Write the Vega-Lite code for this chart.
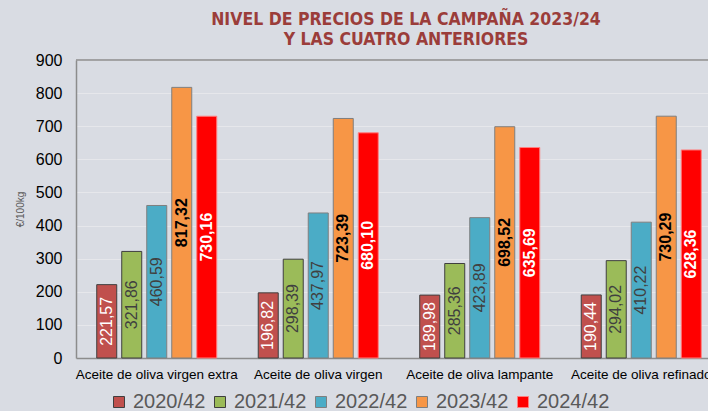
{
  "$schema": "https://vega.github.io/schema/vega-lite/v6.json",
  "autosize": "none",
  "width": 632,
  "height": 298,
  "padding": {"left": 76, "top": 60, "right": 0, "bottom": 53},
  "background": "#D9DCE3",
  "title": {
    "text": ["NIVEL DE PRECIOS DE LA CAMPAÑA 2023/24", "Y LAS CUATRO ANTERIORES"],
    "anchor": "middle",
    "dx": 14,
    "offset": 4,
    "font": "DejaVu Sans Condensed, Liberation Sans, sans-serif",
    "fontSize": 17.5,
    "fontWeight": "bold",
    "color": "#9B3D3A",
    "lineHeight": 20
  },
  "data": {
    "values": [
      {"product": "Aceite de oliva virgen extra", "series": "2020/42", "value": 221.57},
      {"product": "Aceite de oliva virgen extra", "series": "2021/42", "value": 321.86},
      {"product": "Aceite de oliva virgen extra", "series": "2022/42", "value": 460.59},
      {"product": "Aceite de oliva virgen extra", "series": "2023/42", "value": 817.32},
      {"product": "Aceite de oliva virgen extra", "series": "2024/42", "value": 730.16},
      {"product": "Aceite de oliva virgen", "series": "2020/42", "value": 196.82},
      {"product": "Aceite de oliva virgen", "series": "2021/42", "value": 298.39},
      {"product": "Aceite de oliva virgen", "series": "2022/42", "value": 437.97},
      {"product": "Aceite de oliva virgen", "series": "2023/42", "value": 723.39},
      {"product": "Aceite de oliva virgen", "series": "2024/42", "value": 680.10},
      {"product": "Aceite de oliva lampante", "series": "2020/42", "value": 189.98},
      {"product": "Aceite de oliva lampante", "series": "2021/42", "value": 285.36},
      {"product": "Aceite de oliva lampante", "series": "2022/42", "value": 423.89},
      {"product": "Aceite de oliva lampante", "series": "2023/42", "value": 698.52},
      {"product": "Aceite de oliva lampante", "series": "2024/42", "value": 635.69},
      {"product": "Aceite de oliva refinado", "series": "2020/42", "value": 190.44},
      {"product": "Aceite de oliva refinado", "series": "2021/42", "value": 294.02},
      {"product": "Aceite de oliva refinado", "series": "2022/42", "value": 410.22},
      {"product": "Aceite de oliva refinado", "series": "2023/42", "value": 730.29},
      {"product": "Aceite de oliva refinado", "series": "2024/42", "value": 628.36}
    ]
  },
  "encoding": {
    "x": {
      "field": "product",
      "type": "nominal",
      "sort": null,
      "scale": {"range": [0, 646], "paddingInner": 0.226, "paddingOuter": 0.113},
      "axis": {
        "title": null,
        "labelAngle": 0,
        "ticks": false,
        "labelPadding": 9,
        "labelFontSize": 13.5,
        "labelColor": "#000000",
        "labelFont": "Liberation Sans",
        "domainColor": "#8C8C8C",
        "domainWidth": 1.5,
        "grid": false,
        "labelLimit": 300
      }
    },
    "xOffset": {
      "field": "series",
      "type": "nominal",
      "sort": null,
      "scale": {"paddingInner": 0.2, "paddingOuter": 0.1}
    }
  },
  "layer": [
    {
      "mark": {"type": "bar", "strokeWidth": 1},
      "encoding": {
        "y": {
          "field": "value",
          "type": "quantitative",
          "scale": {"domain": [0, 900], "nice": false},
          "axis": {"title": "€/100kg", "values": [0, 100, 200, 300, 400, 500, 600, 700, 800, 900]}
        },
        "fill": {
          "field": "series",
          "type": "nominal",
          "sort": null,
          "scale": {
            "domain": ["2020/42", "2021/42", "2022/42", "2023/42", "2024/42"],
            "range": ["#C0504D", "#9BBB59", "#4BACC6", "#F79646", "#FF0000"]
          },
          "legend": {
            "title": null,
            "orient": "none",
            "direction": "horizontal",
            "legendX": 33,
            "legendY": 332
          }
        },
        "stroke": {
          "field": "series",
          "type": "nominal",
          "sort": null,
          "scale": {
            "domain": ["2020/42", "2021/42", "2022/42", "2023/42", "2024/42"],
            "range": ["#3F3F3F", "#3F3F3F", "#7F7F7F", "#7F7F7F", "#FF7F7F"]
          },
          "legend": {
            "title": null,
            "orient": "none",
            "direction": "horizontal",
            "legendX": 33,
            "legendY": 332
          }
        }
      }
    },
    {
      "transform": [
        {"filter": "datum.series === '2020/42' || datum.series === '2021/42' || datum.series === '2022/42'"},
        {"calculate": "datum.value / 2", "as": "mid"}
      ],
      "mark": {"type": "text", "angle": 270, "align": "center", "baseline": "middle", "fontSize": 16, "font": "Liberation Sans"},
      "encoding": {
        "y": {"field": "mid", "type": "quantitative", "axis": {"title": "€/100kg", "values": [0, 100, 200, 300, 400, 500, 600, 700, 800, 900]}},
        "text": {"field": "value", "type": "quantitative", "format": ".2f"},
        "color": {"condition": {"test": "datum.series === '2020/42'", "value": "#FFFFFF"}, "value": "#404040"}
      }
    },
    {
      "transform": [
        {"filter": "datum.series === '2023/42' || datum.series === '2024/42'"},
        {"calculate": "datum.value / 2", "as": "mid"}
      ],
      "mark": {"type": "text", "angle": 270, "align": "center", "baseline": "middle", "fontSize": 16, "fontWeight": "bold", "font": "Liberation Sans"},
      "encoding": {
        "y": {"field": "mid", "type": "quantitative", "axis": {"title": "€/100kg", "values": [0, 100, 200, 300, 400, 500, 600, 700, 800, 900]}},
        "text": {"field": "value", "type": "quantitative", "format": ".2f"},
        "color": {"condition": {"test": "datum.series === '2023/42'", "value": "#000000"}, "value": "#FFFFFF"}
      }
    },
    {
      "data": {"values": [{}]},
      "mark": {"type": "rule", "color": "#8C8C8C", "strokeWidth": 1.5},
      "encoding": {"y": {"datum": 900, "axis": {"title": "€/100kg", "values": [0, 100, 200, 300, 400, 500, 600, 700, 800, 900]}}, "x": null, "xOffset": null}
    }
  ],
  "config": {
    "view": {"stroke": null},
    "locale": {"number": {"decimal": ",", "thousands": ".", "grouping": [3], "currency": ["", " €"]}},
    "axisY": {
      "titleFontSize": 10,
      "titleFontWeight": "normal",
      "titleColor": "#595959",
      "titleFont": "Liberation Sans",
      "titlePadding": 10,
      "labelOverlap": false,
      "ticks": false,
      "labelPadding": 14,
      "labelFontSize": 16,
      "labelColor": "#000000",
      "labelFont": "Liberation Sans",
      "domainColor": "#8C8C8C",
      "domainWidth": 1.5,
      "grid": true,
      "gridColor": "#E6E7EB",
      "gridWidth": 1
    },
    "legend": {
      "symbolType": "square",
      "symbolSize": 121,
      "symbolStrokeWidth": 1,
      "labelFontSize": 20,
      "labelColor": "#595959",
      "labelFont": "Liberation Sans",
      "columnPadding": 4,
      "symbolOffset": 0,
      "labelOffset": 4
    }
  }
}
